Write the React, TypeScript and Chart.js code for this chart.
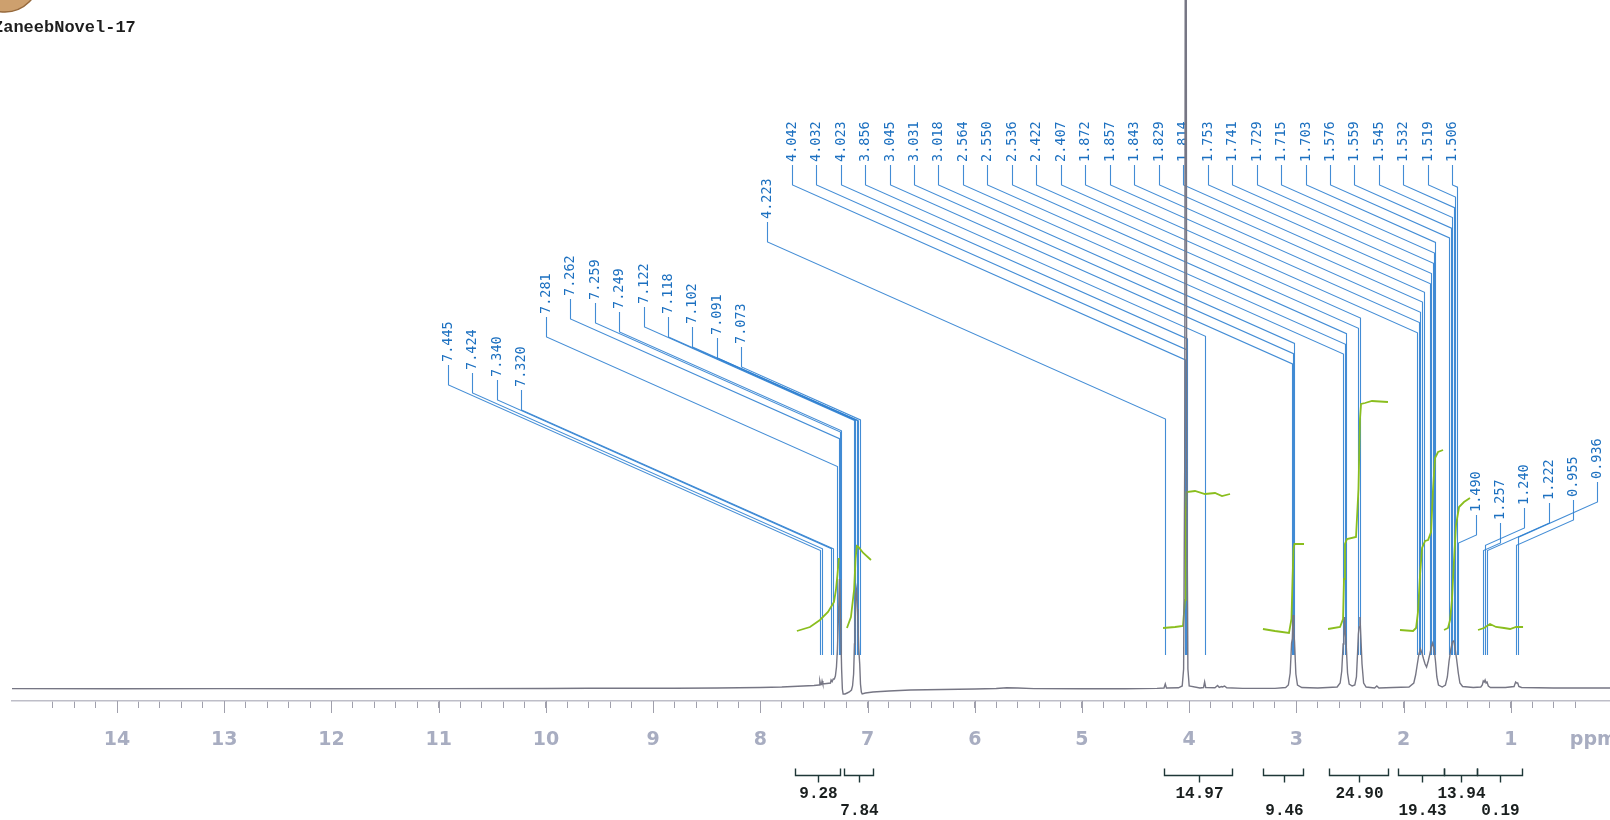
import { useEffect, useRef } from 'react';
import { Chart, registerables } from 'chart.js';

Chart.register(...registerables);

// ---------------- data ----------------
const sampleTitle = 'ZaneebNovel-17';
const axisUnitLabel = 'ppm';
const xMinPpm = 0.075;
const xMaxPpm = 14.98;
const xTickStep = 0.2;

const spectrumPpm = [
  14.98, 14.0, 13.0, 12.0, 11.0, 10.0, 9.6, 9.2, 8.8, 8.4, 8.0, 7.8, 7.6, 7.5,
  7.452, 7.445, 7.438, 7.43, 7.424, 7.417, 7.38, 7.346, 7.34, 7.33, 7.32, 7.31, 7.3, 7.29,
  7.281, 7.272, 7.262, 7.259, 7.252, 7.249, 7.242, 7.235, 7.228, 7.21, 7.19, 7.17, 7.15, 7.14,
  7.13, 7.122, 7.118, 7.11, 7.102, 7.095, 7.091, 7.082, 7.073, 7.066, 7.058, 7.05, 7.02, 6.95,
  6.8, 6.6, 6.3, 6.0, 5.8, 5.7, 5.6, 5.45, 5.0, 4.6, 4.3, 4.235, 4.223, 4.212, 4.1,
  4.065, 4.052, 4.042, 4.032, 4.023, 4.012, 4.0, 3.9, 3.866, 3.856, 3.846, 3.76, 3.735, 3.72,
  3.7, 3.69, 3.67, 3.65, 3.5, 3.2, 3.1, 3.075, 3.058, 3.045, 3.038, 3.031, 3.024, 3.018,
  3.005, 2.99, 2.95, 2.8, 2.62, 2.592, 2.577, 2.564, 2.557, 2.55, 2.543, 2.536, 2.523, 2.508,
  2.48, 2.455, 2.44, 2.43, 2.422, 2.415, 2.407, 2.398, 2.388, 2.373, 2.35, 2.27, 2.25, 2.23,
  2.1, 1.95, 1.905, 1.888, 1.872, 1.857, 1.843, 1.829, 1.814, 1.8, 1.786, 1.77, 1.753, 1.741,
  1.729, 1.715, 1.703, 1.69, 1.675, 1.64, 1.61, 1.592, 1.576, 1.559, 1.545, 1.532, 1.519, 1.506,
  1.49, 1.475, 1.45, 1.35, 1.28, 1.266, 1.257, 1.248, 1.24, 1.231, 1.222, 1.21, 1.19, 1.05,
  0.97, 0.955, 0.946, 0.936, 0.925, 0.9, 0.6, 0.3, 0.075,
];
const spectrumIntensity = [
  0.4, 0.3, 0.4, 0.3, 0.4, 0.5, 0.7, 0.8, 0.8, 1.0, 1.5, 2.0, 3.0, 3.5,
  4.0, 8, 4.5, 4.5, 8, 5, 5.5, 6, 9, 7.5, 10, 10, 13, 22,
  40, 70, 110, 105, 70, 55, 20, 0, -5, -5, -4, -3, -1, 3,
  15, 45, 60, 95, 100, 80, 70, 40, 25, 5, -3, -5, -4, -3,
  -2, -1, -0.5, 0, 0.5, 1.2, 1.0, 0.4, 0.3, 0.3, 0.6, 1.0, 5, 1.0, 1.2,
  3, 20, 220, 1200, 220, 20, 3, 1.0, 1.5, 7, 1.5, 1.2, 3.5, 1.5,
  2.5, 2.0, 3.0, 1.2, 0.6, 0.6, 1.5, 4, 16, 46, 50, 74, 56, 48,
  15, 4, 1.5, 1.0, 2.0, 6, 18, 45, 52, 72, 55, 45, 16, 5,
  3.0, 4, 12, 35, 55, 62, 72, 50, 25, 6, 2.0, 1.0, 3.0, 1.0,
  1.5, 2.0, 6, 14, 25, 35, 40, 36, 30, 25, 22, 28, 36, 42,
  46, 40, 28, 12, 4, 2.0, 4, 12, 28, 40, 47, 48, 40, 30,
  16, 6, 2.5, 1.5, 2.0, 4, 8, 7, 9, 6, 7, 3, 1.5, 1.5,
  2.5, 7, 6, 6, 2.5, 1.5, 1.0, 1.0, 1.0,
];

// integral curves (ppm, curve height)
const integralAro1Ppm = [7.659, 7.537, 7.444, 7.369, 7.313, 7.295, 7.281, 7.267];
const integralAro1Val = [58, 62, 69, 77, 87, 99, 114, 131];
const integralAro2Ppm = [7.192, 7.155, 7.125, 7.112, 7.1, 7.085, 7.04, 6.968];
const integralAro2Val = [61, 72, 100, 130, 143, 142, 136, 129];
const integralOchPpm = [4.244, 4.132, 4.058, 4.039, 4.034, 4.025, 3.946, 3.853, 3.759, 3.694, 3.619];
const integralOchVal = [61, 62, 63, 89, 169, 197, 198, 195, 196, 193, 195];
const integralNchPpm = [3.312, 3.2, 3.069, 3.046, 3.036, 3.027, 3.018, 2.929];
const integralNchVal = [60, 58, 56, 70, 110, 140, 145, 145];
const integralAllylPpm = [2.705, 2.593, 2.565, 2.556, 2.547, 2.528, 2.444, 2.421, 2.407, 2.397, 2.36, 2.295, 2.146];
const integralAllylVal = [60, 62, 70, 110, 145, 150, 152, 200, 270, 285, 286, 288, 287];
const integralCh2aPpm = [2.034, 1.912, 1.884, 1.866, 1.847, 1.828, 1.8, 1.772, 1.744, 1.726, 1.707, 1.679, 1.632];
const integralCh2aVal = [59, 58, 61, 77, 114, 141, 148, 149, 157, 199, 231, 237, 239];
const integralCh2bPpm = [1.623, 1.586, 1.567, 1.549, 1.53, 1.511, 1.483, 1.437, 1.381];
const integralCh2bVal = [59, 61, 69, 89, 129, 164, 182, 187, 191];
const integralCh3Ppm = [1.306, 1.25, 1.194, 1.138, 1.063, 1.007, 0.951, 0.886];
const integralCh3Val = [59, 61, 65, 62, 61, 60, 62, 62];

// integration regions (ppm) and their values
const integralFrom = [7.677, 7.22, 4.239, 3.314, 2.696, 2.057, 1.626, 1.32];
const integralTo = [7.257, 6.95, 3.605, 2.939, 2.142, 1.626, 1.32, 0.898];
const integralValues = ['9.28', '7.84', '14.97', '9.46', '24.90', '19.43', '13.94', '0.19'];

// peak picking labels
const peakLabelsAromaticA = ['7.445', '7.424', '7.340', '7.320'];
const peakLabelsAromaticB = ['7.281', '7.262', '7.259', '7.249', '7.122', '7.118', '7.102', '7.091', '7.073'];
const peakLabelsAliphatic = [
  '4.223', '4.042', '4.032', '4.023', '3.856', '3.045', '3.031', '3.018', '2.564', '2.550',
  '2.536', '2.422', '2.407', '1.872', '1.857', '1.843', '1.829', '1.814', '1.753', '1.741',
  '1.729', '1.715', '1.703', '1.576', '1.559', '1.545', '1.532', '1.519', '1.506',
];
const peakLabelsHighField = ['1.490', '1.257', '1.240', '1.222', '0.955', '0.936'];

// ---------------- layout (not data) ----------------
const LABEL_LAYOUT = [
  { labels: peakLabelsAromaticA, start: 448, step: 24.4, bottoms: [385, 393, 400, 410] },
  { labels: peakLabelsAromaticB, start: 546, step: 24.4, bottoms: [337, 319, 323, 332, 327, 337, 347, 358, 367] },
  { labels: peakLabelsAliphatic, start: 767.2, step: 24.47, bottoms: [242].concat(new Array(28).fill(185)) },
  { labels: peakLabelsHighField, start: 1476, step: 24.2, bottoms: [535, 543, 528, 523, 520, 502] },
];
const integralLabelRows = [0, 1, 0, 1, 0, 1, 0, 1];

const SPEC_COLOR = 'rgb(118,118,132)';
const INTEGRAL_COLOR = 'rgb(138,190,30)';
const LABEL_LINE = 'rgba(45,128,208,0.9)';
const LABEL_TEXT = 'rgb(28,112,192)';
const AXIS_TEXT = 'rgb(168,173,193)';

function pairs(xs: number[], ys: number[]) {
  return xs.map((x, i) => ({ x, y: ys[i] }));
}

const nmrPlugin = {
  id: 'nmrAnnotations',
  beforeDatasetsDraw(chart: any) {
    const ctx = chart.ctx;
    const xs = chart.scales.x;
    ctx.save();
    ctx.lineWidth = 1.1;
    ctx.strokeStyle = LABEL_LINE;
    ctx.fillStyle = LABEL_TEXT;
    ctx.font = '13.5px "DejaVu Sans Mono", monospace';
    for (const g of LABEL_LAYOUT) {
      g.labels.forEach((lab: string, i: number) => {
        const lx = Math.round(g.start + i * g.step) + 0.5;
        const bottom = g.bottoms[i];
        const top = bottom - 20;
        const px = Math.round(xs.getPixelForValue(parseFloat(lab))) + 0.5;
        const cy = bottom + 0.445 * Math.abs(px - lx);
        ctx.beginPath();
        ctx.moveTo(lx, top);
        ctx.lineTo(lx, bottom);
        ctx.lineTo(px, cy);
        ctx.lineTo(px, 655);
        ctx.stroke();
        ctx.save();
        ctx.translate(lx, top - 3);
        ctx.rotate(-Math.PI / 2);
        ctx.textAlign = 'left';
        ctx.textBaseline = 'middle';
        ctx.fillText(lab, 0, 0);
        ctx.restore();
      });
    }
    ctx.restore();
  },
  afterDraw(chart: any) {
    const ctx = chart.ctx;
    const xs = chart.scales.x;
    const bottom = chart.chartArea.bottom;
    ctx.save();
    // major tick extensions
    ctx.strokeStyle = 'rgb(160,160,172)';
    ctx.lineWidth = 1;
    for (let v = Math.ceil(xMinPpm); v <= Math.floor(xMaxPpm); v++) {
      const px = Math.round(xs.getPixelForValue(v)) + 0.5;
      ctx.beginPath();
      ctx.moveTo(px, bottom);
      ctx.lineTo(px, bottom + 12);
      ctx.stroke();
    }
    // unit label
    ctx.fillStyle = AXIS_TEXT;
    ctx.font = 'bold 19px "DejaVu Sans", sans-serif';
    ctx.textAlign = 'left';
    ctx.textBaseline = 'middle';
    ctx.fillText(axisUnitLabel, xs.getPixelForValue(0.45), 740);
    // integral brackets
    ctx.strokeStyle = 'rgb(30,55,55)';
    ctx.lineWidth = 1.4;
    ctx.fillStyle = 'rgb(25,30,30)';
    ctx.font = 'bold 16px "Liberation Mono", "Courier New", monospace';
    ctx.textAlign = 'center';
    const by = 775.5;
    integralFrom.forEach((f, i) => {
      const x1 = Math.round(xs.getPixelForValue(f)) + 0.5;
      const x2 = Math.round(xs.getPixelForValue(integralTo[i])) + 0.5;
      const xm = Math.round((x1 + x2) / 2) + 0.5;
      ctx.beginPath();
      ctx.moveTo(x1, by - 7);
      ctx.lineTo(x1, by);
      ctx.lineTo(x2, by);
      ctx.lineTo(x2, by - 7);
      ctx.moveTo(xm, by);
      ctx.lineTo(xm, by + 7);
      ctx.stroke();
      ctx.fillText(integralValues[i], xm, integralLabelRows[i] === 0 ? 794 : 811);
    });
    // logo
    ctx.beginPath();
    ctx.arc(5, -22, 34, 0, Math.PI * 2);
    ctx.fillStyle = 'rgb(205,160,110)';
    ctx.fill();
    ctx.strokeStyle = 'rgb(150,105,60)';
    ctx.lineWidth = 1.5;
    ctx.stroke();
    // title
    ctx.fillStyle = 'rgb(30,30,30)';
    ctx.font = 'bold 17px "Liberation Mono", "Courier New", monospace';
    ctx.textAlign = 'left';
    ctx.textBaseline = 'alphabetic';
    ctx.fillText(sampleTitle, -7, 32);
    ctx.restore();
  },
};

export default function App() {
  const ref = useRef<HTMLCanvasElement>(null);
  useEffect(() => {
    document.body.style.margin = '0';
    const lineDs = (data: any[], color: string, width: number) => ({
      data,
      borderColor: color,
      borderWidth: width,
      pointRadius: 0,
      tension: 0,
      fill: false,
    });
    const chart = new Chart(ref.current as HTMLCanvasElement, {
      type: 'line',
      data: {
        datasets: [
          lineDs(pairs(spectrumPpm, spectrumIntensity), SPEC_COLOR, 1.4),
          lineDs(pairs(integralAro1Ppm, integralAro1Val), INTEGRAL_COLOR, 1.8),
          lineDs(pairs(integralAro2Ppm, integralAro2Val), INTEGRAL_COLOR, 1.8),
          lineDs(pairs(integralOchPpm, integralOchVal), INTEGRAL_COLOR, 1.8),
          lineDs(pairs(integralNchPpm, integralNchVal), INTEGRAL_COLOR, 1.8),
          lineDs(pairs(integralAllylPpm, integralAllylVal), INTEGRAL_COLOR, 1.8),
          lineDs(pairs(integralCh2aPpm, integralCh2aVal), INTEGRAL_COLOR, 1.8),
          lineDs(pairs(integralCh2bPpm, integralCh2bVal), INTEGRAL_COLOR, 1.8),
          lineDs(pairs(integralCh3Ppm, integralCh3Val), INTEGRAL_COLOR, 1.8),
        ] as any,
      },
      options: {
        responsive: false,
        animation: false,
        events: [],
        layout: { padding: { left: 12, right: 0, top: 0, bottom: 0 } },
        plugins: { legend: { display: false }, tooltip: { enabled: false } },
        scales: {
          x: {
            type: 'linear',
            reverse: true,
            min: xMinPpm,
            max: xMaxPpm,
            position: 'bottom',
            afterBuildTicks: (scale: any) => {
              scale.ticks = scale.ticks.filter((t: any) => {
                const r = t.value / xTickStep;
                return Math.abs(r - Math.round(r)) < 1e-6;
              });
            },
            afterFit: (scale: any) => {
              scale.height = 119;
            },
            grid: {
              display: true,
              drawOnChartArea: false,
              drawTicks: true,
              tickLength: 7,
              color: 'rgb(160,160,172)',
              lineWidth: 1,
            },
            border: { display: true, color: 'rgb(190,190,200)', width: 1.5 },
            ticks: {
              stepSize: xTickStep,
              autoSkip: false,
              maxRotation: 0,
              padding: 21,
              color: AXIS_TEXT,
              font: { family: '"DejaVu Sans", sans-serif', size: 19, weight: 'bold' },
              callback: (value: any) => {
                const v = Number(value);
                return Math.abs(v - Math.round(v)) < 1e-6 ? String(Math.round(v)) : '';
              },
            },
          },
          y: {
            type: 'linear',
            display: false,
            min: -12,
            max: 689,
          },
        },
      } as any,
      plugins: [nmrPlugin],
    });
    return () => chart.destroy();
  }, []);
  return (
    <div style={{ position: 'absolute', left: 0, top: 0, width: 1610, height: 820, background: '#fff' }}>
      <canvas ref={ref} width={1610} height={820} style={{ display: 'block', width: 1610, height: 820 }} />
    </div>
  );
}
